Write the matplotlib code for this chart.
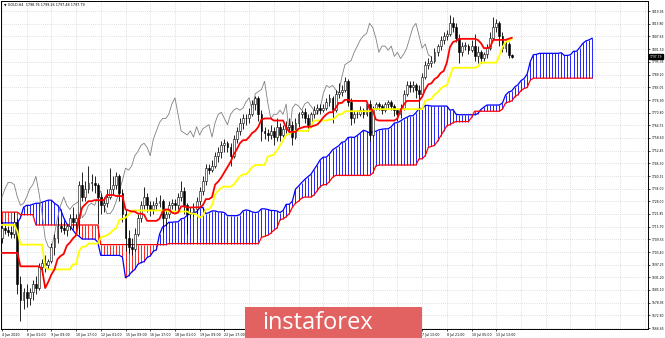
import numpy as np
import matplotlib.pyplot as plt
from matplotlib.patches import Rectangle

# GOLD H4 candles, 4 Jun - 14 Jul 2020
opens = [1710, 1715, 1714, 1713, 1712, 1718, 1688, 1680, 1684, 1681,
         1684, 1688, 1686, 1696, 1698, 1697, 1699, 1706, 1710, 1716,
         1715, 1714, 1716, 1720, 1718, 1720, 1736, 1730, 1734, 1737,
         1737, 1736, 1730, 1726, 1727, 1730, 1734, 1736, 1740, 1732,
         1722, 1710, 1706, 1705, 1712, 1720, 1726, 1730, 1726, 1724,
         1726, 1727, 1728, 1720, 1722, 1726, 1727, 1726, 1730, 1733,
         1726, 1722, 1722, 1724, 1728, 1733, 1738, 1744, 1743, 1745,
         1750, 1752, 1755, 1756, 1754, 1750, 1758, 1762, 1766, 1768,
         1768, 1770, 1775, 1778, 1770, 1762, 1761, 1760, 1762, 1759,
         1764, 1760, 1763, 1764, 1765, 1759, 1766, 1770, 1771, 1768,
         1765, 1770, 1772, 1773, 1772, 1773, 1776, 1778, 1772, 1780,
         1781, 1782, 1786, 1776, 1768, 1770, 1770, 1772, 1770, 1775,
         1760, 1773, 1775, 1774, 1772, 1775, 1776, 1774, 1772, 1770,
         1773, 1780, 1784, 1783, 1784, 1782, 1780, 1788, 1794, 1795,
         1796, 1800, 1803, 1806, 1808, 1809, 1814, 1812, 1807, 1800,
         1803, 1803, 1801, 1803, 1798, 1800, 1797, 1799, 1802, 1807,
         1812, 1814, 1808, 1802, 1804, 1798.76]
highs = [1718, 1717, 1716, 1716, 1723, 1720, 1692, 1686, 1688, 1686,
         1690, 1692, 1698, 1700, 1702, 1700, 1708, 1712, 1720, 1718,
         1718, 1717, 1722, 1725, 1722, 1738, 1742, 1738, 1745, 1741,
         1740, 1737, 1732, 1730, 1734, 1744, 1740, 1742, 1741, 1734,
         1724, 1714, 1710, 1715, 1722, 1728, 1735, 1732, 1728, 1728,
         1730, 1731, 1729, 1724, 1728, 1729, 1729, 1732, 1738, 1735,
         1727, 1725, 1727, 1730, 1735, 1740, 1746, 1746, 1748, 1752,
         1754, 1757, 1758, 1757, 1756, 1760, 1764, 1768, 1770, 1770,
         1773, 1777, 1779, 1779, 1772, 1764, 1763, 1765, 1764, 1768,
         1766, 1765, 1767, 1768, 1767, 1768, 1771, 1772, 1773, 1770,
         1771, 1774, 1775, 1775, 1775, 1778, 1780, 1779, 1782, 1785,
         1784, 1788, 1787, 1778, 1772, 1772, 1774, 1773, 1776, 1777,
         1774, 1776, 1776, 1775, 1776, 1777, 1777, 1775, 1773, 1775,
         1782, 1786, 1786, 1786, 1785, 1784, 1790, 1796, 1797, 1798,
         1802, 1804, 1808, 1810, 1811, 1818, 1817, 1814, 1809, 1805,
         1805, 1804, 1806, 1809, 1803, 1801, 1800, 1804, 1810, 1817,
         1816, 1815, 1810, 1806, 1805, 1799.26]
lows = [1708, 1712, 1711, 1710, 1710, 1683, 1670, 1676, 1677, 1678,
        1680, 1683, 1685, 1693, 1694, 1695, 1698, 1702, 1708, 1713,
        1712, 1711, 1714, 1715, 1714, 1712, 1728, 1728, 1732, 1733,
        1732, 1717, 1722, 1723, 1725, 1729, 1731, 1734, 1728, 1718,
        1704, 1703, 1702, 1704, 1711, 1718, 1724, 1723, 1721, 1722,
        1724, 1725, 1713, 1716, 1720, 1724, 1723, 1724, 1728, 1722,
        1712, 1720, 1721, 1722, 1726, 1731, 1736, 1741, 1742, 1744,
        1747, 1749, 1752, 1752, 1745, 1749, 1756, 1760, 1763, 1765,
        1766, 1769, 1772, 1767, 1757, 1758, 1757, 1758, 1755, 1757,
        1757, 1759, 1761, 1762, 1755, 1758, 1764, 1768, 1766, 1762,
        1764, 1768, 1770, 1770, 1771, 1772, 1774, 1766, 1771, 1778,
        1779, 1781, 1774, 1765, 1766, 1768, 1769, 1768, 1769, 1757,
        1759, 1772, 1772, 1770, 1771, 1773, 1772, 1769, 1767, 1768,
        1772, 1779, 1781, 1781, 1778, 1772, 1779, 1787, 1792, 1793,
        1795, 1798, 1801, 1804, 1806, 1808, 1810, 1805, 1795, 1798,
        1801, 1799, 1800, 1796, 1795, 1795, 1796, 1797, 1801, 1806,
        1810, 1803, 1800, 1800, 1797, 1797.48]
closes = [1715, 1714, 1713, 1712, 1718, 1688, 1680, 1684, 1681, 1684,
          1688, 1686, 1696, 1698, 1697, 1699, 1706, 1710, 1716, 1715,
          1714, 1716, 1720, 1718, 1720, 1736, 1730, 1734, 1737, 1737,
          1736, 1730, 1726, 1727, 1730, 1734, 1736, 1740, 1732, 1722,
          1710, 1706, 1705, 1712, 1720, 1726, 1730, 1726, 1724, 1726,
          1727, 1728, 1720, 1722, 1726, 1727, 1726, 1730, 1733, 1726,
          1722, 1722, 1724, 1728, 1733, 1738, 1744, 1743, 1745, 1750,
          1752, 1755, 1756, 1754, 1750, 1758, 1762, 1766, 1768, 1768,
          1770, 1775, 1778, 1770, 1762, 1761, 1760, 1762, 1759, 1764,
          1760, 1763, 1764, 1765, 1759, 1766, 1770, 1771, 1768, 1765,
          1770, 1772, 1773, 1772, 1773, 1776, 1778, 1772, 1780, 1781,
          1782, 1786, 1776, 1768, 1770, 1770, 1772, 1770, 1775, 1760,
          1773, 1775, 1774, 1772, 1775, 1776, 1774, 1772, 1770, 1773,
          1780, 1784, 1783, 1784, 1782, 1780, 1788, 1794, 1795, 1796,
          1800, 1803, 1806, 1808, 1809, 1814, 1812, 1807, 1800, 1803,
          1803, 1801, 1803, 1798, 1800, 1797, 1799, 1802, 1807, 1812,
          1814, 1808, 1802, 1804, 1798.76, 1797.79]

# Ichimoku lines (red tenkan, yellow kijun), one value per candle
tenkan = [1703, 1703, 1703, 1703, 1703, 1703, 1696.5, 1696.5, 1696.5, 1696.5,
          1696.5, 1696.5, 1696.5, 1695, 1686, 1689, 1692.5, 1695, 1700, 1701.5,
          1702.5, 1706.5, 1708, 1710, 1711.5, 1720, 1725, 1726.5, 1728, 1728,
          1728.5, 1728.5, 1728.5, 1728.5, 1731, 1731, 1731, 1730.5, 1730.5, 1730.5,
          1724, 1723.5, 1723, 1723, 1722, 1722, 1721.5, 1718.5, 1718.5, 1718.5,
          1718.5, 1719.5, 1723, 1724, 1724, 1722.5, 1722, 1722.5, 1725.5, 1725.5,
          1725, 1725, 1725, 1725, 1725, 1726, 1729, 1729, 1730, 1736,
          1737.5, 1739.5, 1742, 1744.5, 1747, 1750.5, 1753, 1756, 1757.5, 1757.5,
          1759, 1761, 1762, 1764, 1767.5, 1768, 1768, 1768, 1767, 1767,
          1767, 1767, 1763.5, 1761.5, 1761.5, 1761.5, 1763, 1763.5, 1764, 1764,
          1764, 1764.5, 1765, 1766.5, 1768.5, 1770, 1771, 1771, 1773, 1775.5,
          1775.5, 1777, 1777, 1776.5, 1776.5, 1776.5, 1776.5, 1776.5, 1776.5, 1772.5,
          1772, 1767.5, 1767, 1767, 1767, 1767, 1767, 1767, 1768, 1772,
          1774.5, 1776.5, 1776.5, 1776.5, 1776.5, 1776.5, 1778.5, 1782, 1784.5, 1785,
          1787, 1788, 1790, 1791, 1795, 1802.5, 1805, 1805.5, 1806.5, 1806.5,
          1806.5, 1806.5, 1806.5, 1806.5, 1806, 1804.5, 1802, 1802, 1802.5, 1806,
          1806, 1806, 1806, 1806, 1806.5, 1807]
kijun = [1716.5, 1716.5, 1716.5, 1716.5, 1716.5, 1713.5, 1707, 1707, 1707, 1707,
         1707, 1707, 1707, 1707, 1696, 1695, 1695, 1695, 1695, 1695,
         1695, 1695, 1695, 1697.5, 1697.5, 1704, 1706, 1706, 1707.5, 1707.5,
         1707.5, 1707.5, 1710.5, 1711, 1711.5, 1712.5, 1714, 1715, 1719, 1719.5,
         1720, 1721.5, 1723.5, 1723.5, 1723.5, 1723.5, 1723.5, 1723.5, 1723.5, 1723.5,
         1723.5, 1723.5, 1723.5, 1723.5, 1723, 1723, 1723, 1723, 1723, 1723,
         1723, 1722, 1722, 1721.5, 1720, 1721, 1724, 1724, 1726, 1731.5,
         1733, 1734.5, 1735, 1735, 1735, 1736, 1738, 1740, 1741, 1741,
         1742.5, 1744.5, 1745.5, 1745.5, 1745.5, 1745.5, 1749.5, 1750, 1750.5, 1752.5,
         1755, 1757.5, 1760, 1760.5, 1761.5, 1762, 1762, 1762, 1762, 1762,
         1764, 1767, 1767, 1767, 1767, 1767, 1767.5, 1767.5, 1768.5, 1770,
         1770, 1771.5, 1771.5, 1771.5, 1771.5, 1771.5, 1771.5, 1771.5, 1771.5, 1771.5,
         1772.5, 1772.5, 1772.5, 1772.5, 1772.5, 1772.5, 1772.5, 1772.5, 1772.5, 1772.5,
         1772.5, 1772.5, 1772.5, 1772.5, 1772.5, 1772.5, 1772.5, 1776.5, 1777, 1777.5,
         1779.5, 1780.5, 1782.5, 1783.5, 1784, 1788.5, 1792.5, 1792.5, 1792.5, 1792.5,
         1792.5, 1792.5, 1792.5, 1792.5, 1793, 1795, 1795, 1795, 1795, 1795,
         1795, 1798.5, 1802.5, 1805, 1805.5, 1806.5]

# cloud, shifted 26 bars ahead (192 bars)
span_a = [1717.5, 1717.5, 1717.5, 1717.5, 1717.5, 1717.5, 1720, 1725, 1726, 1726,
          1726.5, 1727, 1727, 1727.5, 1728, 1728.5, 1728.5, 1727, 1726, 1724,
          1720, 1717, 1716, 1714, 1712, 1711, 1709.7, 1709.7, 1709.7, 1709.7,
          1709.7, 1708.3, 1701.8, 1701.8, 1701.8, 1701.8, 1701.8, 1701.8, 1701.8, 1701,
          1691, 1692, 1693.8, 1695, 1697.5, 1698.3, 1698.8, 1700.8, 1701.5, 1703.8,
          1704.5, 1712, 1715.5, 1716.3, 1717.8, 1717.8, 1718, 1718, 1719.5, 1719.8,
          1721.3, 1721.8, 1722.5, 1722.8, 1724.8, 1725, 1722, 1722.5, 1723.3, 1723.3,
          1722.8, 1722.8, 1722.5, 1721, 1721, 1721, 1721, 1721.5, 1723.3, 1723.8,
          1723.5, 1722.8, 1722.5, 1722.8, 1724.3, 1724.3, 1724, 1723.5, 1723.5, 1723.3,
          1722.5, 1723.5, 1726.5, 1726.5, 1728, 1733.8, 1735.3, 1737, 1738.5, 1739.8,
          1741, 1743.3, 1745.5, 1748, 1749.3, 1749.3, 1750.8, 1752.8, 1753.8, 1754.8,
          1756.5, 1756.8, 1758.8, 1759, 1758.8, 1759.8, 1761, 1762.3, 1761.8, 1761,
          1761.5, 1761.8, 1762.5, 1762.8, 1763, 1763, 1764, 1765.8, 1766, 1766.8,
          1767.8, 1768.5, 1769.3, 1769.3, 1770.8, 1772.8, 1772.8, 1774.3, 1774.3, 1774,
          1774, 1774, 1774, 1774, 1774, 1772, 1772.3, 1770, 1769.8, 1769.8,
          1769.8, 1769.8, 1769.8, 1769.8, 1770.3, 1772.3, 1773.5, 1774.5, 1774.5, 1774.5,
          1774.5, 1774.5, 1775.5, 1779.3, 1780.8, 1781.3, 1783.3, 1784.3, 1786.3, 1787.3,
          1789.5, 1795.5, 1798.8, 1799, 1799.5, 1799.5, 1799.5, 1799.5, 1799.5, 1799.5,
          1799.5, 1799.8, 1798.5, 1798.5, 1798.8, 1800.5, 1800.5, 1802.3, 1804.3, 1805.5,
          1806, 1806.8]
span_b = [1722.7, 1722.7, 1722.7, 1722.7, 1722.7, 1722.7, 1721.5, 1721.5, 1721.5, 1721.5,
          1721.5, 1716.5, 1716.5, 1716.5, 1716.5, 1716.5, 1716.5, 1716.5, 1716.5, 1716.5,
          1716.5, 1716.5, 1716.5, 1716.5, 1716.5, 1716.5, 1716.5, 1716.5, 1716.5, 1716.5,
          1716.5, 1716.5, 1707, 1707, 1707, 1707, 1707, 1707, 1707, 1707,
          1707, 1707, 1707, 1707, 1707, 1707, 1707, 1707, 1707, 1707,
          1707, 1707, 1707, 1707, 1707.5, 1707.5, 1707.5, 1707.5, 1707.5, 1707.5,
          1707.5, 1707.5, 1707.5, 1707.5, 1707.5, 1707.5, 1707.5, 1707.5, 1707.5, 1707.5,
          1707.5, 1707.5, 1707.5, 1707.5, 1707.5, 1707.5, 1707.5, 1707.5, 1707.5, 1707.5,
          1707.5, 1707.5, 1707.5, 1707.5, 1710.5, 1711, 1711.5, 1712.5, 1714, 1715,
          1719, 1719.5, 1720.5, 1722, 1725, 1727, 1728, 1729.5, 1730, 1730,
          1730, 1731, 1733, 1735, 1736, 1736, 1737.5, 1739.5, 1740.5, 1740.5,
          1740.5, 1740.5, 1740.5, 1740.5, 1740.5, 1740.5, 1740.5, 1740.5, 1740.5, 1740.5,
          1741.5, 1745, 1745.5, 1745.5, 1745.5, 1745.5, 1745.5, 1745.5, 1745.5, 1745.5,
          1745.5, 1745.5, 1745.5, 1745.5, 1745.5, 1748.5, 1748.5, 1750, 1754, 1754.5,
          1755, 1757, 1759.5, 1762, 1764.5, 1765, 1766, 1766.5, 1766.5, 1766.5,
          1766.5, 1766.5, 1768.5, 1771.5, 1771.5, 1771.5, 1771.5, 1771.5, 1771.5, 1771.5,
          1771.5, 1771.5, 1772.5, 1775.5, 1776, 1776.5, 1778.5, 1779.5, 1781.5, 1782.5,
          1783, 1786.5, 1787.5, 1787.5, 1787.5, 1787.5, 1787.5, 1787.5, 1787.5, 1787.5,
          1787.5, 1787.5, 1787.5, 1787.5, 1787.5, 1787.5, 1787.5, 1787.5, 1787.5, 1787.5,
          1787.5, 1787.5]

x_labels = ["4 Jun 2020", "8 Jun 01:00", "9 Jun 09:00", "10 Jun 17:00", "12 Jun 01:00",
            "15 Jun 09:00", "16 Jun 17:00", "18 Jun 01:00", "19 Jun 09:00", "22 Jun 17:00",
            "24 Jun 01:00", "25 Jun 09:00", "26 Jun 17:00", "30 Jun 01:00", "1 Jul 09:00",
            "2 Jul 17:00", "6 Jul 05:00", "7 Jul 13:00", "8 Jul 21:00", "10 Jul 05:00",
            "13 Jul 13:00"]
y_ticks = [1666.65, 1672.80, 1678.95, 1685.10, 1691.20, 1697.25, 1703.40, 1709.55,
           1715.70, 1721.85, 1728.00, 1734.00, 1740.15, 1746.30, 1752.45, 1758.60,
           1764.75, 1770.80, 1776.90, 1783.05, 1789.20, 1795.35, 1801.50, 1807.65,
           1813.80, 1819.95]
header = "\u25bc GOLD,H4  1798.76 1799.26 1797.48 1797.79"

o = np.array(opens)
h = np.array(highs)
l = np.array(lows)
c = np.array(closes)
sa = np.array(span_a)
sb = np.array(span_b)
xs = np.arange(len(c))
xk = np.arange(len(sa))
chikou = c[26:]

fig = plt.figure(figsize=(6.65, 3.38), dpi=100)
ax = fig.add_axes([1 / 665, 9 / 338, 647 / 665, 328 / 338])
ax.set_xlim(-0.3, 209.1)
ax.set_ylim(1666.2, 1824.8)

# grid
grid_kw = dict(color='#c4c4c4', lw=0.5, linestyle=(0, (1, 2)), zorder=0)
for yv in y_ticks:
    ax.axhline(yv, **grid_kw)
for xv in np.arange(0, 209, 8):
    ax.axvline(xv, **grid_kw)

# cloud hatching
up = sa >= sb
ax.vlines(xk[up], sb[up], sa[up], color='#0000ff', lw=0.6, zorder=1)
ax.vlines(xk[~up], sa[~up], sb[~up], color='#ff0000', lw=0.6, zorder=1)
ax.plot(xk, sa, color='#0000ff', lw=0.9, zorder=2)
ax.plot(xk, sb, color='#ff0000', lw=0.9, zorder=2)

# chikou
ax.plot(np.arange(len(chikou)), chikou, color='#808080', lw=0.6, zorder=3)

# candles
ax.vlines(xs, l, h, color='black', lw=0.6, zorder=4)
bull = c >= o
body_lo = np.minimum(o, c)
body_h = np.maximum(np.abs(c - o), 0.3)
ax.bar(xs[bull], body_h[bull], bottom=body_lo[bull], width=0.6,
       color='white', edgecolor='black', lw=0.4, zorder=5)
ax.bar(xs[~bull], body_h[~bull], bottom=body_lo[~bull], width=0.6,
       color='black', edgecolor='black', lw=0.4, zorder=5)

# tenkan / kijun
ax.plot(xs, kijun, color='#ffff00', lw=1.3, zorder=6)
ax.plot(xs, tenkan, color='#ff0000', lw=1.3, zorder=7)

# axes
for s in ax.spines.values():
    s.set_color('black')
    s.set_linewidth(0.7)
ax.yaxis.tick_right()
ax.set_yticks(y_ticks)
ax.set_yticklabels([f"{v:.2f}" for v in y_ticks])
tick_pos = np.arange(0, 8 * len(x_labels), 8)
# the labels between 24 Jun and 6 Jul sit behind the logo
shown = [lab if not (80 <= p <= 128) else '' for p, lab in zip(tick_pos, x_labels)]
ax.set_xticks(tick_pos)
ax.set_xticklabels(shown, ha='left')
ax.tick_params(axis='y', labelsize=2.15, length=1.5, width=0.5, pad=0.8, colors='black')
ax.tick_params(axis='x', labelsize=2.3, length=1.5, width=0.5, pad=1.2, colors='black')

# header and last price
ax.text(0.004, 0.995, header, transform=ax.transAxes, fontsize=2.4,
        va='top', ha='left')
ax.text(1.003, closes[-1], f"{closes[-1]:.2f}", transform=ax.get_yaxis_transform(),
        fontsize=2.15, color='white', va='center', ha='left',
        bbox=dict(boxstyle='square,pad=0.2', fc='black', ec='black'))

# logo
fig.patches.append(Rectangle((245 / 665, 0), 177 / 665, 31 / 338,
                             transform=fig.transFigure, fc='#e26262', ec='none',
                             zorder=20))
fig.text(262 / 665, 15 / 338, "instaforex", color='white', fontsize=17,
         family='Open Sans', va='center', ha='left', zorder=21)

fig.savefig('out.png', dpi=100)
